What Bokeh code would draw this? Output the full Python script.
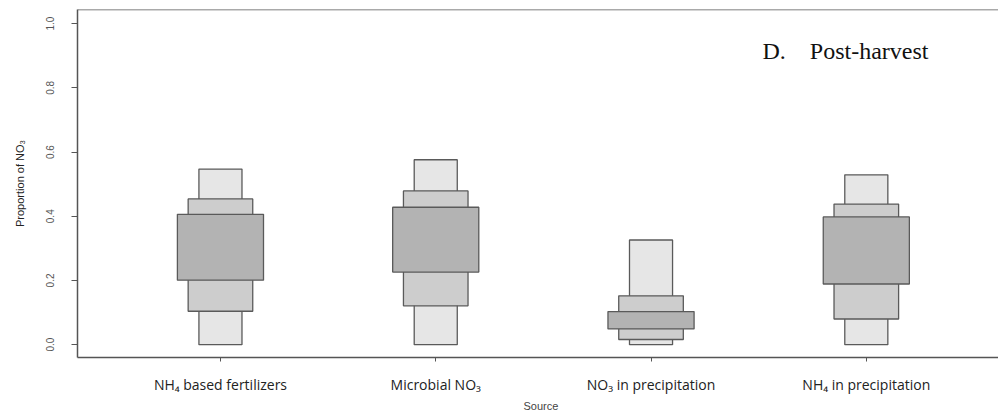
from bokeh.plotting import figure
from bokeh.models import FixedTicker, Label, Range1d, Span, ColumnDataSource, Title
from bokeh.embed import file_html
from bokeh.resources import INLINE

# ---- data ----
sources = ["NH\u2084 based fertilizers", "Microbial NO\u2083", "NO\u2083 in precipitation", "NH\u2084 in precipitation"]
positions = [1, 2, 3, 4]
lo95 = [0.000, 0.000, 0.000, 0.000]
hi95 = [0.547, 0.576, 0.326, 0.529]
lo75 = [0.104, 0.121, 0.016, 0.080]
hi75 = [0.454, 0.479, 0.152, 0.438]
lo50 = [0.201, 0.226, 0.049, 0.189]
hi50 = [0.406, 0.428, 0.103, 0.398]
y_ticks = [0.0, 0.2, 0.4, 0.6, 0.8, 1.0]

src = ColumnDataSource(dict(x=positions, lo95=lo95, hi95=hi95, lo75=lo75, hi75=hi75, lo50=lo50, hi50=hi50))

p = figure(width=998, height=416, output_backend="svg", toolbar_location=None,
           x_range=Range1d(0.336, 4.614), y_range=Range1d(-0.04, 1.044),
           min_border_left=77, min_border_right=0, min_border_top=9, min_border_bottom=59)
p.outline_line_color = None
p.xgrid.visible = False
p.ygrid.visible = False
p.background_fill_color = "white"
p.border_fill_color = "white"

edge = "#5a5a5a"
p.vbar(x="x", bottom="lo95", top="hi95", width=0.2, source=src, fill_color="#e6e6e6", line_color=edge, line_width=1.3)
p.vbar(x="x", bottom="lo75", top="hi75", width=0.3, source=src, fill_color="#cdcdcd", line_color=edge, line_width=1.3)
p.vbar(x="x", bottom="lo50", top="hi50", width=0.4, source=src, fill_color="#b3b3b3", line_color=edge, line_width=1.3)

frame_col = "#555555"
# y axis
ya = p.yaxis[0]
ya.ticker = FixedTicker(ticks=y_ticks)
ya.major_label_overrides = {t: f"{t:.1f}" for t in y_ticks}
ya.major_label_orientation = "vertical"
ya.minor_tick_line_color = None
ya.major_tick_out = 6
ya.major_tick_in = 0
ya.major_label_standoff = 17
ya.major_label_text_font = "Liberation Sans"
ya.major_label_text_font_size = "10px"
ya.major_label_text_color = "#555555"
ya.axis_line_color = frame_col
ya.axis_line_width = 1.5
ya.major_tick_line_color = frame_col
ya.axis_label = "Proportion of NO\u2083"
ya.axis_label_text_font = "Liberation Sans"
ya.axis_label_text_font_style = "normal"
ya.axis_label_text_font_size = "11px"
ya.axis_label_text_color = "#222222"
ya.axis_label_standoff = 18

# x axis
xa = p.xaxis[0]
xa.ticker = FixedTicker(ticks=positions)
xa.major_label_overrides = {pos: name for pos, name in zip(positions, sources)}
xa.minor_tick_line_color = None
xa.major_tick_out = 4
xa.major_tick_in = 0
xa.major_label_standoff = 13
xa.major_label_text_font = "Open Sans"
xa.major_label_text_font_size = "14px"
xa.major_label_text_color = "#222222"
xa.axis_line_color = frame_col
xa.axis_line_width = 1.5
xa.major_tick_line_color = frame_col

# top border of the plot box
p.add_layout(Span(location=1.044, dimension="width", line_color=frame_col, line_width=1.5))

# x-axis title "Source"
p.add_layout(Title(text="Source", align="left", offset=446, standoff=2,
                   text_font="Liberation Sans", text_font_size="11px", text_font_style="normal",
                   text_color="#444444"), "below")

# screen units of Label are measured from the frame's bottom-left corner
p.add_layout(Label(x=685, y=307, x_units="screen", y_units="screen",
                   text="D.\u00a0\u00a0\u00a0\u00a0Post-harvest",
                   text_font="Liberation Serif", text_font_size="24px", text_color="#111111",
                   text_align="left", text_baseline="middle"))

open("out.html", "w").write(file_html(p, INLINE))
